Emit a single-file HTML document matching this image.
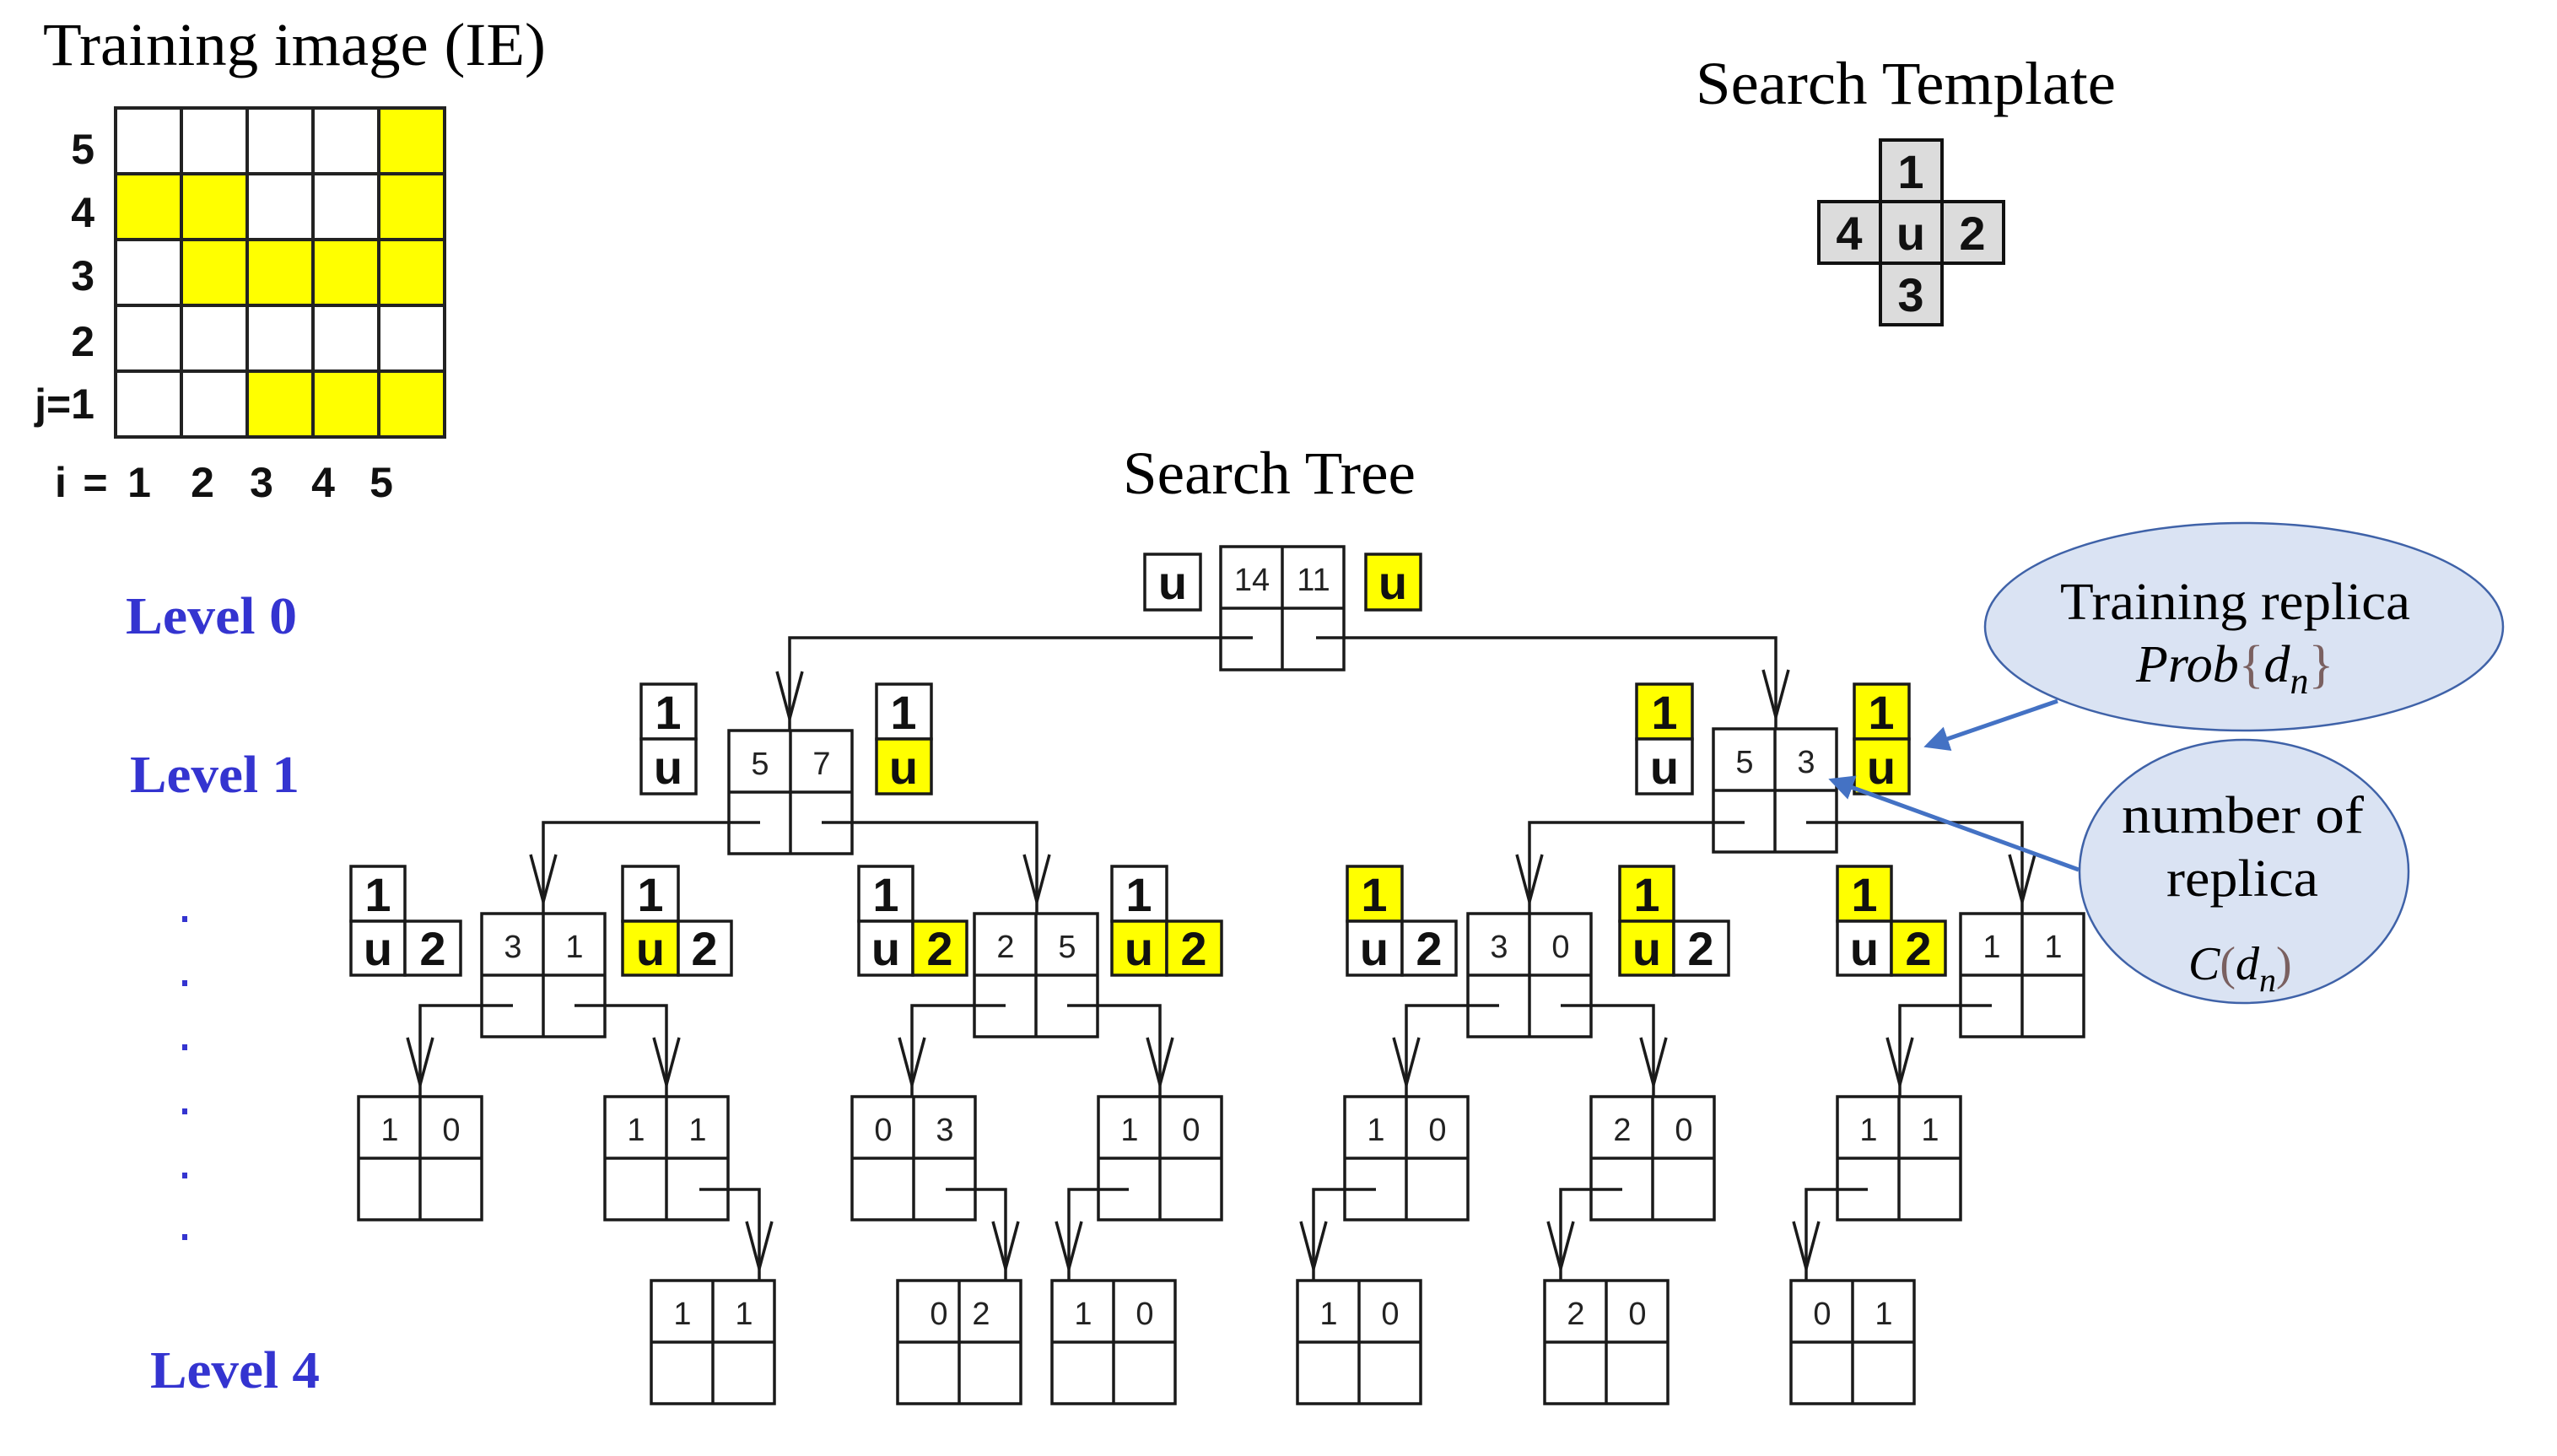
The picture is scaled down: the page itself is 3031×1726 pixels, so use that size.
<!DOCTYPE html>
<html><head><meta charset="utf-8"><style>
html,body{margin:0;padding:0;background:#fff;}
svg{display:block;}
.t{font-family:"Liberation Serif",serif;fill:#000;}
.lv{font-family:"Liberation Serif",serif;fill:#3434d0;font-weight:bold;}
.b{font-family:"Liberation Sans",sans-serif;font-weight:bold;fill:#111;}
.n{font-family:"Liberation Sans",sans-serif;fill:#222;font-size:38px;text-anchor:middle;}
.tl{font-family:"Liberation Sans",sans-serif;font-weight:bold;fill:#111;font-size:56px;text-anchor:middle;}
.ln{fill:none;stroke:#1a1a1a;stroke-width:3.5;}
</style></head><body>
<svg width="3031" height="1726" viewBox="0 0 3031 1726" xmlns="http://www.w3.org/2000/svg">
<defs>
<g id="nd"><rect x="0" y="0" width="146" height="146" fill="#fff" stroke="#1a1a1a" stroke-width="3.5"/><line x1="73" y1="0" x2="73" y2="146" stroke="#1a1a1a" stroke-width="3.5"/><line x1="0" y1="73" x2="146" y2="73" stroke="#1a1a1a" stroke-width="3.5"/></g>
<marker id="ah" markerWidth="6" markerHeight="6" refX="5" refY="3" orient="auto" markerUnits="strokeWidth"><path d="M0,0 L6,3 L0,6 z" fill="#4472c4"/></marker>
</defs>

<!-- Titles -->
<text class="t" x="51" y="77" font-size="72" textLength="596" lengthAdjust="spacingAndGlyphs">Training image (IE)</text>
<text class="t" x="2010" y="123" font-size="72" textLength="498" lengthAdjust="spacingAndGlyphs">Search Template</text>
<text class="t" x="1331" y="585" font-size="72" textLength="347" lengthAdjust="spacingAndGlyphs">Search Tree</text>

<!-- Training image grid -->
<g stroke="#222" stroke-width="4">
<rect x="137" y="128" width="78" height="78" fill="#fff"/><rect x="215" y="128" width="78" height="78" fill="#fff"/><rect x="293" y="128" width="78" height="78" fill="#fff"/><rect x="371" y="128" width="78" height="78" fill="#fff"/><rect x="449" y="128" width="78" height="78" fill="#ffff00"/>
<rect x="137" y="206" width="78" height="78" fill="#ffff00"/><rect x="215" y="206" width="78" height="78" fill="#ffff00"/><rect x="293" y="206" width="78" height="78" fill="#fff"/><rect x="371" y="206" width="78" height="78" fill="#fff"/><rect x="449" y="206" width="78" height="78" fill="#ffff00"/>
<rect x="137" y="284" width="78" height="78" fill="#fff"/><rect x="215" y="284" width="78" height="78" fill="#ffff00"/><rect x="293" y="284" width="78" height="78" fill="#ffff00"/><rect x="371" y="284" width="78" height="78" fill="#ffff00"/><rect x="449" y="284" width="78" height="78" fill="#ffff00"/>
<rect x="137" y="362" width="78" height="78" fill="#fff"/><rect x="215" y="362" width="78" height="78" fill="#fff"/><rect x="293" y="362" width="78" height="78" fill="#fff"/><rect x="371" y="362" width="78" height="78" fill="#fff"/><rect x="449" y="362" width="78" height="78" fill="#fff"/>
<rect x="137" y="440" width="78" height="78" fill="#fff"/><rect x="215" y="440" width="78" height="78" fill="#fff"/><rect x="293" y="440" width="78" height="78" fill="#ffff00"/><rect x="371" y="440" width="78" height="78" fill="#ffff00"/><rect x="449" y="440" width="78" height="78" fill="#ffff00"/>
</g>
<g class="b" font-size="50" text-anchor="end">
<text x="112" y="194">5</text><text x="112" y="269">4</text><text x="112" y="344">3</text><text x="112" y="422">2</text><text x="112" y="496">j=1</text>
</g>
<g class="b" font-size="50" text-anchor="middle">
<text x="72" y="589">i</text><text x="113" y="589">=</text><text x="165" y="589">1</text><text x="240" y="589">2</text><text x="310" y="589">3</text><text x="383" y="589">4</text><text x="452" y="589">5</text>
</g>

<!-- Search template -->
<g stroke="#111" stroke-width="4" fill="#dcdcdc">
<rect x="2229" y="166" width="73" height="73"/><rect x="2156" y="239" width="73" height="73"/><rect x="2229" y="239" width="73" height="73"/><rect x="2302" y="239" width="73" height="73"/><rect x="2229" y="312" width="73" height="73"/>
</g>
<g class="tl" font-size="60">
<text x="2265" y="223">1</text><text x="2192" y="296">4</text><text x="2265" y="296">u</text><text x="2338" y="296">2</text><text x="2265" y="369">3</text>
</g>

<!-- Level labels -->
<text class="lv" x="149" y="751" font-size="62" textLength="203" lengthAdjust="spacingAndGlyphs">Level 0</text>
<text class="lv" x="154" y="939" font-size="62" textLength="201" lengthAdjust="spacingAndGlyphs">Level 1</text>
<text class="lv" x="178" y="1645" font-size="62" textLength="201" lengthAdjust="spacingAndGlyphs">Level 4</text>
<g fill="#3434d0">
<rect x="216" y="1086" width="6" height="7"/><rect x="216" y="1162" width="6" height="7"/><rect x="216" y="1238" width="6" height="7"/><rect x="216" y="1314" width="6" height="7"/><rect x="216" y="1390" width="6" height="7"/><rect x="216" y="1463" width="6" height="7"/>
</g>

<!-- Connectors -->
<g class="ln">
<path d="M1485 756 H936 V866"/><path d="M1560 756 H2105 V864"/>
<path d="M901 975 H644 V1083"/><path d="M974 975 H1229 V1083"/>
<path d="M2068 975 H1813 V1083"/><path d="M2141 975 H2397 V1083"/>
<path d="M608 1192 H498 V1300"/><path d="M681 1192 H790 V1300"/>
<path d="M1192 1192 H1081 V1300"/><path d="M1265 1192 H1375 V1300"/>
<path d="M1777 1192 H1667 V1300"/><path d="M1850 1192 H1960 V1300"/>
<path d="M2361 1192 H2252 V1300"/>
<path d="M829 1410 H900 V1518"/><path d="M1121 1410 H1192 V1518"/><path d="M1338 1410 H1267 V1518"/>
<path d="M1631 1410 H1557 V1518"/><path d="M1923 1410 H1850 V1518"/><path d="M2214 1410 H2141 V1518"/>
<!-- arrowheads -->
<path d="M921 796 L936 852 L951 796"/><path d="M2090 794 L2105 850 L2120 794"/>
<path d="M629 1013 L644 1069 L659 1013"/><path d="M1214 1013 L1229 1069 L1244 1013"/>
<path d="M1798 1013 L1813 1069 L1828 1013"/><path d="M2382 1013 L2397 1069 L2412 1013"/>
<path d="M483 1230 L498 1286 L513 1230"/><path d="M775 1230 L790 1286 L805 1230"/>
<path d="M1066 1230 L1081 1286 L1096 1230"/><path d="M1360 1230 L1375 1286 L1390 1230"/>
<path d="M1652 1230 L1667 1286 L1682 1230"/><path d="M1945 1230 L1960 1286 L1975 1230"/>
<path d="M2237 1230 L2252 1286 L2267 1230"/>
<path d="M885 1448 L900 1504 L915 1448"/><path d="M1177 1448 L1192 1504 L1207 1448"/><path d="M1252 1448 L1267 1504 L1282 1448"/>
<path d="M1542 1448 L1557 1504 L1572 1448"/><path d="M1835 1448 L1850 1504 L1865 1448"/><path d="M2126 1448 L2141 1504 L2156 1448"/>
</g>

<!-- Nodes -->
<use href="#nd" x="1447" y="648"/>
<use href="#nd" x="864" y="866"/><use href="#nd" x="2031" y="864"/>
<use href="#nd" x="571" y="1083"/><use href="#nd" x="1155" y="1083"/><use href="#nd" x="1740" y="1083"/><use href="#nd" x="2324" y="1083"/>
<use href="#nd" x="425" y="1300"/><use href="#nd" x="717" y="1300"/><use href="#nd" x="1010" y="1300"/><use href="#nd" x="1302" y="1300"/>
<use href="#nd" x="1594" y="1300"/><use href="#nd" x="1886" y="1300"/><use href="#nd" x="2178" y="1300"/>
<use href="#nd" x="772" y="1518"/><use href="#nd" x="1064" y="1518"/><use href="#nd" x="1247" y="1518"/>
<use href="#nd" x="1538" y="1518"/><use href="#nd" x="1831" y="1518"/><use href="#nd" x="2123" y="1518"/>
<!-- re-draw stubs over node fills -->
<g class="ln">
<path d="M1447 756 H1485"/><path d="M1560 756 H1594"/>
<path d="M864 975 H901"/><path d="M974 975 H1010"/>
<path d="M2031 975 H2068"/><path d="M2141 975 H2177"/>
<path d="M571 1192 H608"/><path d="M681 1192 H717"/>
<path d="M1155 1192 H1192"/><path d="M1265 1192 H1301"/>
<path d="M1740 1192 H1777"/><path d="M1850 1192 H1886"/>
<path d="M2324 1192 H2361"/>
<path d="M829 1410 H863"/><path d="M1121 1410 H1156"/><path d="M1302 1410 H1338"/>
<path d="M1594 1410 H1631"/><path d="M1886 1410 H1923"/><path d="M2178 1410 H2214"/>
</g>
<g class="n">
<text x="1484" y="700">14</text><text x="1557" y="700">11</text>
<text x="901" y="918">5</text><text x="974" y="918">7</text>
<text x="2068" y="916">5</text><text x="2141" y="916">3</text>
<text x="608" y="1135">3</text><text x="681" y="1135">1</text>
<text x="1192" y="1135">2</text><text x="1265" y="1135">5</text>
<text x="1777" y="1135">3</text><text x="1850" y="1135">0</text>
<text x="2361" y="1135">1</text><text x="2434" y="1135">1</text>
<text x="462" y="1352">1</text><text x="535" y="1352">0</text>
<text x="754" y="1352">1</text><text x="827" y="1352">1</text>
<text x="1047" y="1352">0</text><text x="1120" y="1352">3</text>
<text x="1339" y="1352">1</text><text x="1412" y="1352">0</text>
<text x="1631" y="1352">1</text><text x="1704" y="1352">0</text>
<text x="1923" y="1352">2</text><text x="1996" y="1352">0</text>
<text x="2215" y="1352">1</text><text x="2288" y="1352">1</text>
<text x="809" y="1570">1</text><text x="882" y="1570">1</text>
<text x="1113" y="1570">0</text><text x="1163" y="1570">2</text>
<text x="1284" y="1570">1</text><text x="1357" y="1570">0</text>
<text x="1575" y="1570">1</text><text x="1648" y="1570">0</text>
<text x="1868" y="1570">2</text><text x="1941" y="1570">0</text>
<text x="2160" y="1570">0</text><text x="2233" y="1570">1</text>
</g>

<!-- Template boxes -->
<g stroke="#1a1a1a" stroke-width="3.5">
<rect x="1357" y="657" width="66" height="66" fill="#fff"/><rect x="1619" y="657" width="65" height="66" fill="#ffff00"/>
<rect x="760" y="811" width="65" height="65" fill="#fff"/><rect x="760" y="876" width="65" height="65" fill="#fff"/>
<rect x="1039" y="811" width="65" height="65" fill="#fff"/><rect x="1039" y="876" width="65" height="65" fill="#ffff00"/>
<rect x="1940" y="811" width="66" height="65" fill="#ffff00"/><rect x="1940" y="876" width="66" height="65" fill="#fff"/>
<rect x="2198" y="811" width="65" height="65" fill="#ffff00"/><rect x="2198" y="876" width="65" height="65" fill="#ffff00"/>
<!-- L2 templates -->
<rect x="416" y="1027" width="64" height="65" fill="#fff"/><rect x="416" y="1092" width="64" height="64" fill="#fff"/><rect x="480" y="1092" width="66" height="64" fill="#fff"/>
<rect x="738" y="1027" width="66" height="65" fill="#fff"/><rect x="738" y="1092" width="66" height="64" fill="#ffff00"/><rect x="804" y="1092" width="63" height="64" fill="#fff"/>
<rect x="1018" y="1027" width="64" height="65" fill="#fff"/><rect x="1018" y="1092" width="64" height="64" fill="#fff"/><rect x="1082" y="1092" width="64" height="64" fill="#ffff00"/>
<rect x="1318" y="1027" width="65" height="65" fill="#fff"/><rect x="1318" y="1092" width="65" height="64" fill="#ffff00"/><rect x="1383" y="1092" width="65" height="64" fill="#ffff00"/>
<rect x="1597" y="1027" width="65" height="65" fill="#ffff00"/><rect x="1597" y="1092" width="65" height="64" fill="#fff"/><rect x="1662" y="1092" width="64" height="64" fill="#fff"/>
<rect x="1920" y="1027" width="64" height="65" fill="#ffff00"/><rect x="1920" y="1092" width="64" height="64" fill="#ffff00"/><rect x="1984" y="1092" width="65" height="64" fill="#fff"/>
<rect x="2178" y="1027" width="64" height="65" fill="#ffff00"/><rect x="2178" y="1092" width="64" height="64" fill="#fff"/><rect x="2242" y="1092" width="64" height="64" fill="#ffff00"/>
</g>
<g class="tl">
<text x="1390" y="710">u</text><text x="1651" y="710">u</text>
<text x="792" y="864">1</text><text x="792" y="929">u</text>
<text x="1071" y="864">1</text><text x="1071" y="929">u</text>
<text x="1973" y="864">1</text><text x="1973" y="929">u</text>
<text x="2230" y="864">1</text><text x="2230" y="929">u</text>
<text x="448" y="1080">1</text><text x="448" y="1144">u</text><text x="513" y="1144">2</text>
<text x="771" y="1080">1</text><text x="771" y="1144">u</text><text x="835" y="1144">2</text>
<text x="1050" y="1080">1</text><text x="1050" y="1144">u</text><text x="1114" y="1144">2</text>
<text x="1350" y="1080">1</text><text x="1350" y="1144">u</text><text x="1415" y="1144">2</text>
<text x="1629" y="1080">1</text><text x="1629" y="1144">u</text><text x="1694" y="1144">2</text>
<text x="1952" y="1080">1</text><text x="1952" y="1144">u</text><text x="2016" y="1144">2</text>
<text x="2210" y="1080">1</text><text x="2210" y="1144">u</text><text x="2274" y="1144">2</text>
</g>

<!-- Callouts -->
<ellipse cx="2660" cy="743" rx="307" ry="123" fill="#dae3f3" stroke="#3f62a8" stroke-width="2.5"/>
<ellipse cx="2660" cy="1033" rx="195" ry="156" fill="#dae3f3" stroke="#3f62a8" stroke-width="2.5"/>
<text class="t" x="2442" y="734" font-size="62" textLength="415" lengthAdjust="spacingAndGlyphs">Training replica</text>
<text class="t" x="2532" y="808" font-size="62" font-style="italic">Prob<tspan fill="#7a6060" font-style="normal">{</tspan>d<tspan font-size="44" dy="14">n</tspan><tspan fill="#7a6060" font-style="normal" dy="-14">}</tspan></text>
<text class="t" x="2515" y="987" font-size="62" textLength="287" lengthAdjust="spacingAndGlyphs">number of</text>
<text class="t" x="2568" y="1062" font-size="62" textLength="180" lengthAdjust="spacingAndGlyphs">replica</text>
<text class="t" x="2594" y="1161" font-size="56" font-style="italic">C<tspan fill="#7a6060" font-style="normal">(</tspan>d<tspan font-size="40" dy="14">n</tspan><tspan fill="#7a6060" font-style="normal" dy="-14">)</tspan></text>
<line x1="2464" y1="1031" x2="2172" y2="925" stroke="#4472c4" stroke-width="5" marker-end="url(#ah)"/>
<line x1="2439" y1="831" x2="2285" y2="884" stroke="#4472c4" stroke-width="5" marker-end="url(#ah)"/>
</svg>
</body></html>
